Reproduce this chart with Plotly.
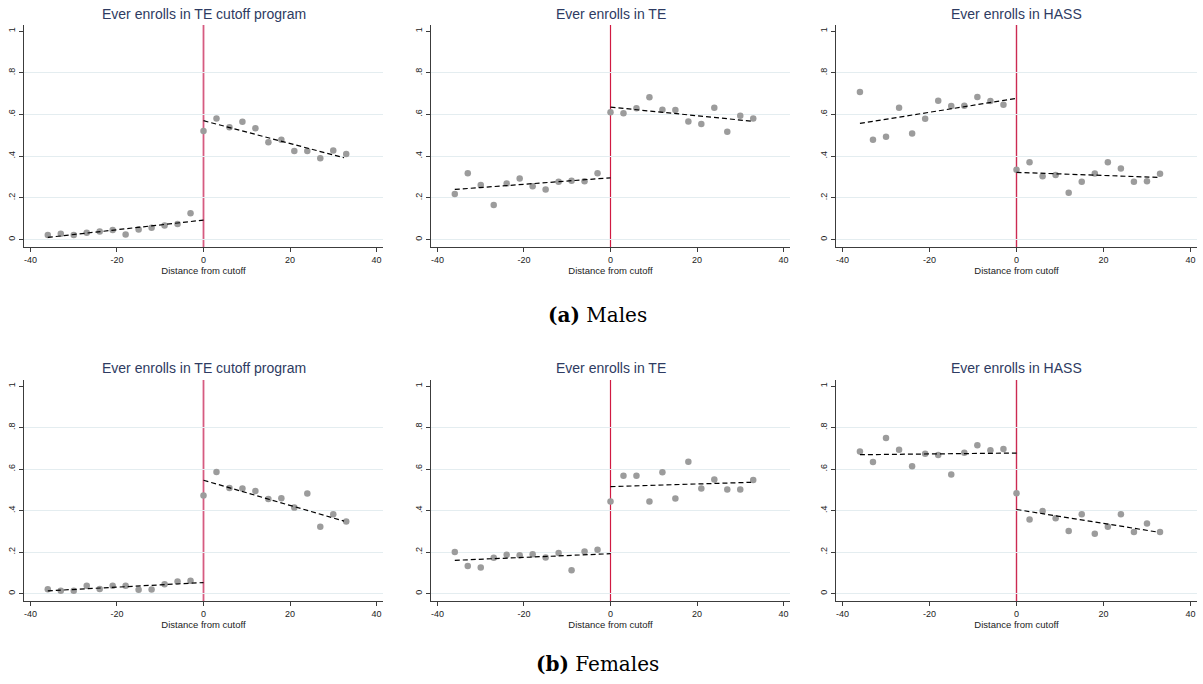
# -*- coding: utf-8 -*-
"""
RD plots: enrolment outcomes by distance from the admission cutoff,
males (top row) and females (bottom row).
"""

import plotly.graph_objects as go

# ---- data -----------------------------------------------------------------
BIN_LEFT = [-36, -33, -30, -27, -24, -21, -18, -15, -12, -9, -6, -3]
BIN_RIGHT = [0, 3, 6, 9, 12, 15, 18, 21, 24, 27, 30, 33]
FIT_X_LEFT = [-36, 0]
FIT_X_RIGHT = [0, 32.5]

TITLES = ["Ever enrolls in TE cutoff program", "Ever enrolls in TE", "Ever enrolls in HASS"]
CAPTIONS = ["<b>(a)</b> Males", "<b>(b)</b> Females"]
X_TICKS = [-40, -20, 0, 20, 40]
X_TICK_TEXT = ["-40", "-20", "0", "20", "40"]
Y_TICKS = [0, 0.2, 0.4, 0.6, 0.8, 1]
Y_TICK_TEXT = ["0", ".2", ".4", ".6", ".8", "1"]
X_TITLE = "Distance from cutoff"

# Males
M_CUT_LEFT = [0.022, 0.027, 0.022, 0.032, 0.038, 0.045, 0.024, 0.048, 0.056, 0.067, 0.074, 0.126]
M_CUT_RIGHT = [0.520, 0.581, 0.539, 0.565, 0.534, 0.467, 0.478, 0.424, 0.424, 0.390, 0.427, 0.410]
M_CUT_FIT_L = [0.010, 0.093]
M_CUT_FIT_R = [0.570, 0.392]

M_TE_LEFT = [0.218, 0.318, 0.261, 0.165, 0.269, 0.293, 0.256, 0.240, 0.277, 0.282, 0.280, 0.318]
M_TE_RIGHT = [0.611, 0.606, 0.630, 0.682, 0.622, 0.621, 0.566, 0.554, 0.632, 0.517, 0.594, 0.581]
M_TE_FIT_L = [0.240, 0.296]
M_TE_FIT_R = [0.635, 0.568]

M_HASS_LEFT = [0.707, 0.478, 0.493, 0.632, 0.509, 0.579, 0.666, 0.640, 0.642, 0.683, 0.664, 0.646]
M_HASS_RIGHT = [0.334, 0.371, 0.304, 0.310, 0.224, 0.277, 0.317, 0.370, 0.341, 0.277, 0.280, 0.315]
M_HASS_FIT_L = [0.557, 0.677]
M_HASS_FIT_R = [0.322, 0.298]

# Females
F_CUT_LEFT = [0.021, 0.013, 0.013, 0.037, 0.022, 0.038, 0.037, 0.018, 0.019, 0.045, 0.058, 0.061]
F_CUT_RIGHT = [0.472, 0.586, 0.509, 0.506, 0.494, 0.456, 0.459, 0.414, 0.482, 0.322, 0.382, 0.347]
F_CUT_FIT_L = [0.013, 0.053]
F_CUT_FIT_R = [0.546, 0.349]

F_TE_LEFT = [0.200, 0.133, 0.125, 0.173, 0.187, 0.184, 0.189, 0.174, 0.195, 0.112, 0.202, 0.211]
F_TE_RIGHT = [0.443, 0.568, 0.568, 0.443, 0.584, 0.458, 0.635, 0.506, 0.549, 0.501, 0.501, 0.547]
F_TE_FIT_L = [0.160, 0.192]
F_TE_FIT_R = [0.515, 0.536]

F_HASS_LEFT = [0.685, 0.634, 0.750, 0.693, 0.613, 0.674, 0.667, 0.574, 0.678, 0.714, 0.691, 0.696]
F_HASS_RIGHT = [0.483, 0.357, 0.398, 0.363, 0.301, 0.382, 0.288, 0.322, 0.382, 0.296, 0.338, 0.296]
F_HASS_FIT_L = [0.669, 0.677]
F_HASS_FIT_R = [0.405, 0.296]

PANELS = [
    [(M_CUT_LEFT, M_CUT_RIGHT, M_CUT_FIT_L, M_CUT_FIT_R),
     (M_TE_LEFT, M_TE_RIGHT, M_TE_FIT_L, M_TE_FIT_R),
     (M_HASS_LEFT, M_HASS_RIGHT, M_HASS_FIT_L, M_HASS_FIT_R)],
    [(F_CUT_LEFT, F_CUT_RIGHT, F_CUT_FIT_L, F_CUT_FIT_R),
     (F_TE_LEFT, F_TE_RIGHT, F_TE_FIT_L, F_TE_FIT_R),
     (F_HASS_LEFT, F_HASS_RIGHT, F_HASS_FIT_L, F_HASS_FIT_R)],
]

# ---- layout ---------------------------------------------------------------
W, H = 1203, 684
COL_PX = [(24, 383), (431, 790), (836, 1197)]
ROW_PX = [(25, 247), (380, 601)]
TITLE_Y_PX = [14, 368]
CAPTION_Y_PX = [315, 664]
CUTOFF_STYLE = [("#d65b80", 1.8), ("#d01a42", 1.2), ("#cc2a52", 1.4)]

_FONT = "Liberation Sans, Arial, sans-serif"

_AXIS_STYLE = dict(
    showline=True,
    linecolor="#3c3c3c",
    linewidth=1,
    ticks="outside",
    ticklen=4,
    tickcolor="#3c3c3c",
    zeroline=False,
    showgrid=False,
    tickfont=dict(family=_FONT, size=9, color="#222222"),
)

fig = go.Figure()
layout = dict(
    width=W, height=H,
    margin=dict(l=0, r=0, t=0, b=0),
    plot_bgcolor="white", paper_bgcolor="white",
    showlegend=False,
)
annotations = []
shapes = []

k = 0
for r, row in enumerate(PANELS):
    y0, y1 = ROW_PX[r]
    for c, (left, right, fit_l, fit_r) in enumerate(row):
        k += 1
        x0, x1 = COL_PX[c]
        xa = "x" if k == 1 else f"x{k}"
        ya = "y" if k == 1 else f"y{k}"
        xkey = "xaxis" if k == 1 else f"xaxis{k}"
        ykey = "yaxis" if k == 1 else f"yaxis{k}"

        layout[xkey] = dict(
            domain=[x0 / W, x1 / W], anchor=ya, range=[-41.5, 41.5],
            tickvals=X_TICKS, ticktext=X_TICK_TEXT,
            title=dict(text=X_TITLE, standoff=2,
                       font=dict(family=_FONT, size=9.5, color="#222222")),
            **_AXIS_STYLE,
        )
        layout[ykey] = dict(
            domain=[1 - y1 / H, 1 - y0 / H], anchor=xa, range=[-0.036, 1.029],
            tickvals=Y_TICKS, ticktext=Y_TICK_TEXT, tickangle=-90,
            minor=dict(tickvals=Y_TICKS[:-1], showgrid=True, gridcolor="#e4edf0",
                       gridwidth=1, ticks=""),
            **_AXIS_STYLE,
        )

        # cutoff line
        color, width = CUTOFF_STYLE[c]
        shapes.append(dict(type="line", xref=xa, yref=f"{ya} domain",
                           x0=0, x1=0, y0=0, y1=1,
                           line=dict(color=color, width=width), layer="below"))

        for xs, ys in ((BIN_LEFT, left), (BIN_RIGHT, right)):
            fig.add_trace(go.Scatter(
                x=xs, y=ys, mode="markers", xaxis=xa, yaxis=ya,
                marker=dict(color="#9c9c9c", size=6.5, line=dict(width=0)),
                hoverinfo="x+y",
            ))
        for xs, ys in ((FIT_X_LEFT, fit_l), (FIT_X_RIGHT, fit_r)):
            fig.add_trace(go.Scatter(
                x=xs, y=ys, mode="lines", xaxis=xa, yaxis=ya,
                line=dict(color="black", width=1.2, dash="5px,3px"),
                hoverinfo="skip",
            ))

        annotations.append(dict(
            text=TITLES[c], x=(x0 + x1) / 2 / W, y=1 - TITLE_Y_PX[r] / H,
            xref="paper", yref="paper", xanchor="center", yanchor="middle",
            showarrow=False,
            font=dict(family=_FONT, size=14, color="#2e3b62"),
        ))

    annotations.append(dict(
        text=CAPTIONS[r], x=0.497, y=1 - CAPTION_Y_PX[r] / H,
        xref="paper", yref="paper", xanchor="center", yanchor="middle",
        showarrow=False,
        font=dict(family="DejaVu Serif, Liberation Serif, serif", size=20, color="black"),
    ))

layout["annotations"] = annotations
layout["shapes"] = shapes
fig.update_layout(**layout)
# drop the browser's default 8px body margin so the figure sits at the page origin
fig.write_html(
    "out.html",
    config={"displayModeBar": False},
    post_script="document.body.style.margin='0';",
)
